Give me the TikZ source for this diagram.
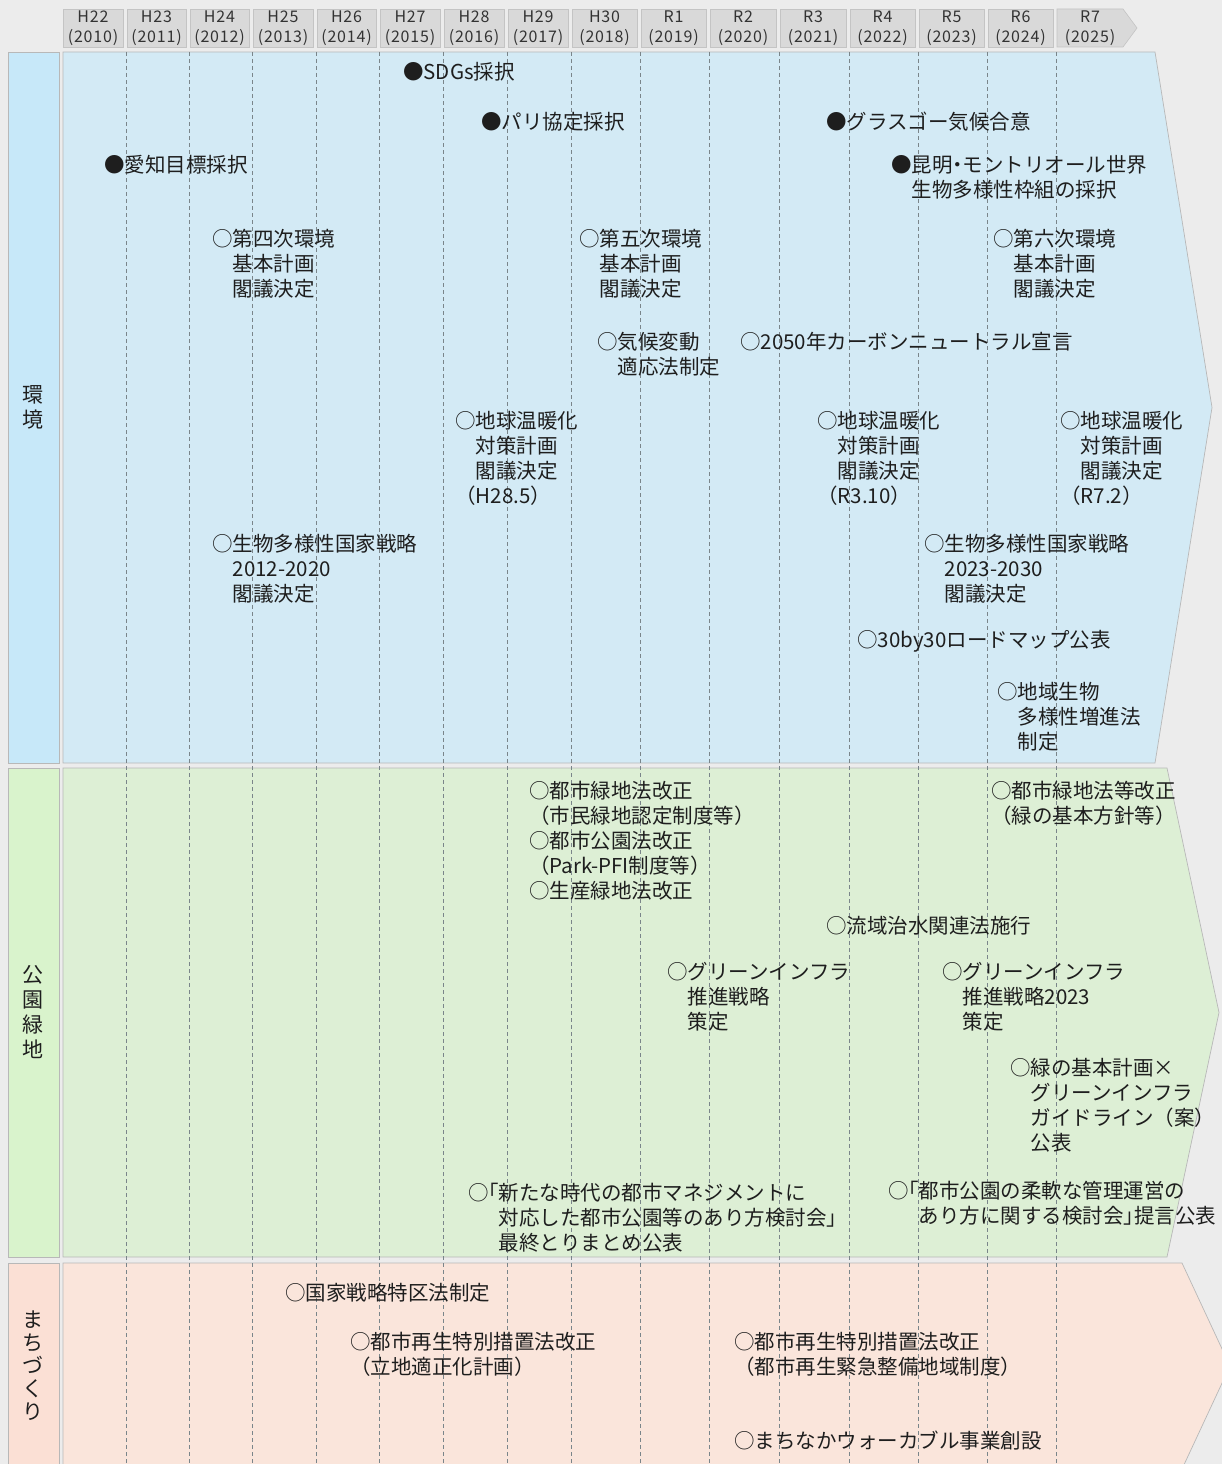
\documentclass[tikz,border=0pt]{standalone}
\usepackage{fontspec}
\setmainfont{Noto Sans CJK JP}
\newfontfamily\hdrfont[LetterSpace=5]{Noto Sans CJK JP}
\newcommand\hwid[1]{{\addfontfeature{RawFeature=+halt}#1}}
\definecolor{bg}{HTML}{ECECEC}
\definecolor{hdrfill}{HTML}{D9D9D9}
\definecolor{hdrborder}{HTML}{C4C4C4}
\definecolor{hdrtxt}{HTML}{333333}
\definecolor{envfill}{HTML}{D3EAF5}
\definecolor{envlab}{HTML}{C7E8F9}
\definecolor{parkfill}{HTML}{DDEFD5}
\definecolor{parklab}{HTML}{D9F3CC}
\definecolor{townfill}{HTML}{FAE5DB}
\definecolor{townlab}{HTML}{FBE0D5}
\definecolor{bandline}{HTML}{B8B8B8}
\definecolor{gridc}{HTML}{7A858A}
\definecolor{txt}{HTML}{1E1E1E}
\tikzset{
  yearbox/.style={draw=hdrborder, fill=hdrfill, line width=0.6pt},
  yearlbl/.style={align=center, inner sep=0pt, font=\hdrfont\fontsize{16}{19.5}\selectfont, text=hdrtxt},
  band/.style={draw=bandline, line width=0.7pt},
  catlbl/.style={draw=bandline, line width=0.7pt, align=center, inner sep=0pt,
                 font=\fontsize{21}{25}\selectfont, text=txt, minimum width=51pt},
  ev/.style={anchor=base west, inner sep=0pt, align=left,
             font=\fontsize{20.5}{25}\selectfont, text=txt},
  gridline/.style={draw=gridc, line width=0.6pt, dash pattern=on 4pt off 3pt},
}
\begin{document}
\begin{tikzpicture}[x=1pt,y=-1pt]
\useasboundingbox (0,0) rectangle (1222,1464);
\clip (0,0) rectangle (1222,1464);
\fill[bg] (0,0) rectangle (1222,1464);

% header
\foreach \l/\r/\a/\b [count=\i] in {62/126/H22/2010,126/189/H23/2011,189/252/H24/2012,
   252/316/H25/2013,316/379/H26/2014,379/443/H27/2015,443/507/H28/2016,507/571/H29/2017,
   571/640/H30/2018,640/709/R1/2019,709/779/R2/2020,779/849/R3/2021,849/918/R4/2022,
   918/987/R5/2023,987/1056/R6/2024}{
  \pgfmathsetmacro\w{\r-\l-4}
  \pgfmathsetmacro\cx{(\l+\r)/2-1}
  \node[yearbox, yearlbl, minimum width=\w pt, minimum height=38pt] (yr\i) at (\cx,28) {\a\\(\b)};
}
\draw[yearbox] (1057,9) -- (1123,9) -- (1137,28) -- (1123,47) -- (1057,47) -- cycle;
\node[yearlbl] (yr16) at (1090,28) {R7\\(2025)};

% bands
\draw[band, fill=envfill] (63,52) -- (1155,52) -- (1212,407.5) -- (1155,763) -- (63,763) -- cycle;
\draw[band, fill=parkfill] (63,768) -- (1167,768) -- (1219,1012.5) -- (1167,1257) -- (63,1257) -- cycle;
\draw[band, fill=townfill] (63,1263) -- (1182,1263) -- (1230,1366) -- (1182,1469) -- (63,1469) -- cycle;

% grid
\foreach \x in {126,189,252,316,379,443,507,571,640,709,779,849,918,987,1056}
  \draw[gridline] (\x,52) -- (\x,1464);

% category labels
\node[catlbl, fill=envlab, minimum height=711pt] (envlbl) at (33.5,407.5) {環\\境};
\node[catlbl, fill=parklab, minimum height=489pt] (parklbl) at (33.5,1012.5) {公\\園\\緑\\地};
\node[catlbl, fill=townlab, minimum height=206pt, font=\fontsize{21}{23}\selectfont] (townlbl) at (33.5,1366) {ま\\ち\\づ\\く\\り};

% environment (multi-line nodes are anchored at the baseline of their last line)
\node[ev] (sdgs) at (403,80) {●SDGs採択};
\node[ev] (paris) at (481,129) {●パリ協定採択};
\node[ev] (glasgow) at (826,129) {●グラスゴー気候合意};
\node[ev] (aichi) at (104,172) {●愛知目標採択};
\node[ev] (kunming) at (891,197) {●昆明\hwid{・}モントリオール世界\\　生物多様性枠組の採択};
\node[ev] (plan4) at (212,296) {○第四次環境\\　基本計画\\　閣議決定};
\node[ev] (plan5) at (579,296) {○第五次環境\\　基本計画\\　閣議決定};
\node[ev] (plan6) at (993,296) {○第六次環境\\　基本計画\\　閣議決定};
\node[ev] (adapt) at (597,374) {○気候変動\\　適応法制定};
\node[ev] (carbon) at (740,349) {○2050年カーボンニュートラル宣言};
\node[ev] (warm1) at (455,503) {○地球温暖化\\　対策計画\\　閣議決定\\（H28.5）};
\node[ev] (warm2) at (817,503) {○地球温暖化\\　対策計画\\　閣議決定\\（R3.10）};
\node[ev] (warm3) at (1060,503) {○地球温暖化\\　対策計画\\　閣議決定\\（R7.2）};
\node[ev] (bio1) at (212,601) {○生物多様性国家戦略\\　2012-2020\\　閣議決定};
\node[ev] (bio2) at (924,601) {○生物多様性国家戦略\\　2023-2030\\　閣議決定};
\node[ev] (thirty) at (857,647) {○30by30ロードマップ公表};
\node[ev] (local) at (997,749) {○地域生物\\　多様性増進法\\　制定};

% parks and green spaces
\node[ev] (greenlaw) at (529,823) {○都市緑地法改正\\（市民緑地認定制度等）};
\node[ev] (parklaw) at (529,873) {○都市公園法改正\\（Park-PFI制度等）};
\node[ev] (farmlaw) at (529,898) {○生産緑地法改正};
\node[ev] (greenlaw2) at (991,823) {○都市緑地法等改正\\（緑の基本方針等）};
\node[ev] (basin) at (826,933) {○流域治水関連法施行};
\node[ev] (gi1) at (667,1029) {○グリーンインフラ\\　推進戦略\\　策定};
\node[ev] (gi2) at (942,1029) {○グリーンインフラ\\　推進戦略2023\\　策定};
\node[ev] (giguide) at (1010,1150) {○緑の基本計画×\\　グリーンインフラ\\　ガイドライン（案）\\　公表};
\node[ev] (newera) at (468,1250) {○\hwid{「}新たな時代の都市マネジメントに\\\hspace*{1.5em}対応した都市公園等のあり方検討会」\\\hspace*{1.5em}最終とりまとめ公表};
\node[ev] (flex) at (888,1223) {○\hwid{「}都市公園の柔軟な管理運営の\\\hspace*{1.5em}あり方に関する検討会\hwid{」}提言公表};

% town planning
\node[ev] (zone) at (285,1300) {○国家戦略特区法制定};
\node[ev] (renew1) at (350,1374) {○都市再生特別措置法改正\\（立地適正化計画）};
\node[ev] (renew2) at (734,1374) {○都市再生特別措置法改正\\（都市再生緊急整備地域制度）};
\node[ev] (walk) at (734,1448) {○まちなかウォーカブル事業創設};
\end{tikzpicture}
\end{document}
